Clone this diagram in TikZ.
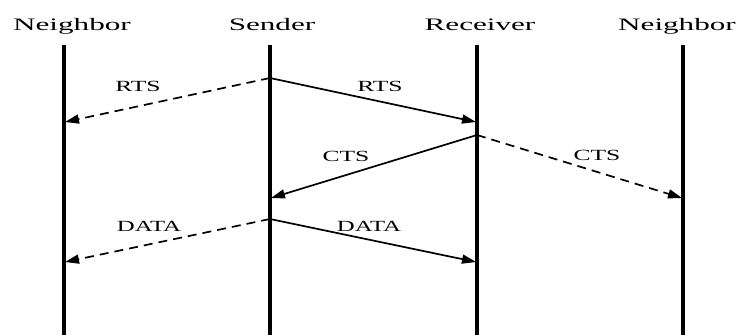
\documentclass[tikz,border=0pt]{standalone}
\usepackage{fontspec}
\usepackage{graphicx}
\setmainfont{Liberation Serif}
\usetikzlibrary{arrows.meta}
\begin{document}
\begin{tikzpicture}[x=1pt,y=-1pt,
  life/.style={line width=3.2pt},
  msg/.style={line width=1.7pt,-{Triangle[length=14pt,width=9pt]}},
  bcast/.style={msg,dash pattern=on 9pt off 6pt},
  head/.style={anchor=base,inner sep=0pt,font=\fontsize{17.5}{20}\selectfont},
  lbl/.style={anchor=base,inner sep=0pt,font=\fontsize{15.5}{18}\selectfont}]
\useasboundingbox (0,0) rectangle (742,335);
% headers
\node[head] (hn1) at (72,30) {\scalebox{1.78}[1]{Neighbor}};
\node[head] (hs) at (272,30) {\scalebox{1.78}[1]{Sender}};
\node[head] (hr) at (480,30) {\scalebox{1.78}[1]{Receiver}};
\node[head] (hn2) at (677,30) {\scalebox{1.78}[1]{Neighbor}};
% lifelines
\coordinate (n1t) at (64,45);  \coordinate (n1b) at (64,335);
\coordinate (st)  at (270,45); \coordinate (sb)  at (270,335);
\coordinate (rt)  at (477,45); \coordinate (rb)  at (477,335);
\coordinate (n2t) at (683,45); \coordinate (n2b) at (683,335);
\draw[life] (n1t) -- (n1b);
\draw[life] (st) -- (sb);
\draw[life] (rt) -- (rb);
\draw[life] (n2t) -- (n2b);
% message points
\coordinate (s1) at (270,78);
\coordinate (n1a) at (65,122);
\coordinate (r1) at (476,122);
\coordinate (r2) at (477,135);
\coordinate (s2) at (271,198);
\coordinate (n2a) at (682,198);
\coordinate (s3) at (270,219);
\coordinate (n1c) at (65,262);
\coordinate (r3) at (476,262);
% messages
\draw[bcast] (s1) -- (n1a);
\draw[msg] (s1) -- (r1);
\draw[msg] (r2) -- (s2);
\draw[bcast] (r2) -- (n2a);
\draw[bcast] (s3) -- (n1c);
\draw[msg] (s3) -- (r3);
% labels
\node[lbl] (l1) at (138,91) {\scalebox{1.65}[1]{RTS}};
\node[lbl] (l2) at (380,91) {\scalebox{1.65}[1]{RTS}};
\node[lbl] (l3) at (346,161) {\scalebox{1.65}[1]{CTS}};
\node[lbl] (l4) at (597,160) {\scalebox{1.65}[1]{CTS}};
\node[lbl] (l5) at (149,231) {\scalebox{1.6}[1]{DATA}};
\node[lbl] (l6) at (369,231) {\scalebox{1.6}[1]{DATA}};
\end{tikzpicture}
\end{document}
